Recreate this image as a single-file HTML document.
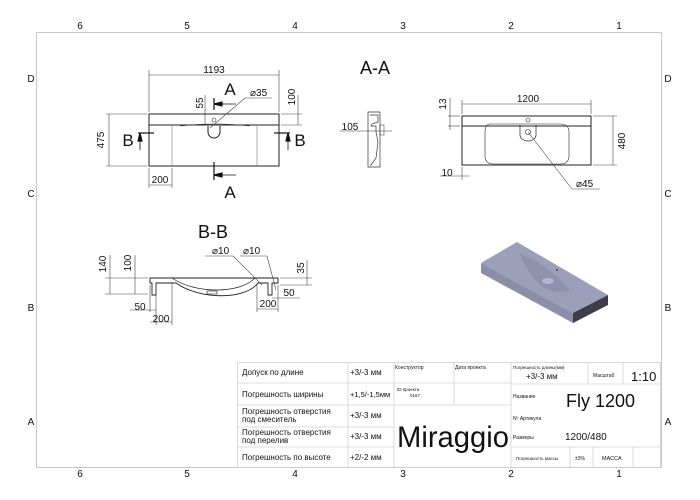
<!DOCTYPE html>
<html><head><meta charset="utf-8"><style>
html,body{margin:0;padding:0;background:#fff;}
svg{display:block;font-family:"Liberation Sans","DejaVu Sans",sans-serif;}
</style></head><body>
<svg width="700" height="500" viewBox="0 0 700 500" xmlns="http://www.w3.org/2000/svg">
<rect width="700" height="500" fill="#fff"/>
<!-- frame -->
<rect x="36.5" y="32.5" width="625" height="435" fill="none" stroke="#c8c8c8" stroke-width="1"/>
<g font-size="10" fill="#111" text-anchor="middle">
<text x="80" y="29">6</text><text x="187" y="29">5</text><text x="295" y="29">4</text><text x="403" y="29">3</text><text x="511" y="29">2</text><text x="619" y="29">1</text>
<text x="80" y="477">6</text><text x="187" y="477">5</text><text x="295" y="477">4</text><text x="403" y="477">3</text><text x="511" y="477">2</text><text x="619" y="477">1</text>
<text x="31" y="82">D</text><text x="31" y="197">C</text><text x="31" y="311">B</text><text x="31" y="425">A</text>
<text x="668" y="82">D</text><text x="668" y="197">C</text><text x="668" y="311">B</text><text x="668" y="425">A</text>
</g>

<!-- top-left plan -->
<g stroke="#222" stroke-width="1" fill="none">
<rect x="149" y="114" width="130" height="52"/>
<line x1="149" y1="125" x2="279" y2="125"/>
<line x1="172" y1="125" x2="172" y2="166" stroke="#777" stroke-width="0.6"/>
<line x1="257" y1="125" x2="257" y2="166" stroke="#777" stroke-width="0.6"/>
<path d="M208 126 L208 132 A6 6 0 0 0 220 132 L220 126"/>
<circle cx="214" cy="120" r="2" stroke-width="0.6"/>
<path d="M180 126 Q214 122 250 126" stroke-width="0.6"/>
</g>
<g stroke="#444" stroke-width="0.6" fill="none">
<line x1="149" y1="70" x2="149" y2="112"/><line x1="279" y1="70" x2="279" y2="112"/>
<line x1="149" y1="75" x2="279" y2="75"/>
<line x1="106" y1="114" x2="147" y2="114"/><line x1="106" y1="166" x2="147" y2="166"/>
<line x1="109" y1="114" x2="109" y2="166"/>
<line x1="149" y1="168" x2="149" y2="188"/><line x1="172" y1="168" x2="172" y2="188"/>
<line x1="149" y1="185" x2="172" y2="185"/>
<line x1="298" y1="95" x2="298" y2="125"/><line x1="281" y1="114" x2="302" y2="114"/><line x1="281" y1="125" x2="302" y2="125"/>
<line x1="205" y1="95" x2="205" y2="125"/>
<line x1="210" y1="128" x2="245" y2="98"/><line x1="245" y1="98" x2="272" y2="98"/>
</g>
<g stroke="#111" stroke-width="1.2" fill="#111">
<line x1="214" y1="98" x2="214" y2="110"/><line x1="214" y1="104" x2="236" y2="104" stroke-width="0.8"/>
<path d="M214 104 L222 102 L222 106Z"/>
<line x1="214" y1="162" x2="214" y2="180"/><line x1="214" y1="175" x2="236" y2="175" stroke-width="0.8"/>
<path d="M214 175 L222 173 L222 177Z"/>
<line x1="138" y1="133" x2="154" y2="133"/><line x1="140" y1="133" x2="140" y2="150" stroke-width="0.8"/>
<path d="M140 133 L138 141 L142 141Z"/>
<line x1="274" y1="133" x2="290" y2="133"/><line x1="288" y1="133" x2="288" y2="150" stroke-width="0.8"/>
<path d="M288 133 L286 141 L290 141Z"/>
</g>
<g fill="#111" font-size="10">
<text x="214" y="73" text-anchor="middle">1193</text>
<text x="230" y="95" font-size="17" text-anchor="middle">A</text>
<text x="230" y="198" font-size="17" text-anchor="middle">A</text>
<text x="128" y="146" font-size="17" text-anchor="middle">B</text>
<text x="300" y="146" font-size="17" text-anchor="middle">B</text>
<text x="250" y="96">⌀35</text>
<text x="160" y="183" text-anchor="middle">200</text>
<text transform="translate(104 140) rotate(-90)" text-anchor="middle">475</text>
<text transform="translate(295 97) rotate(-90)" text-anchor="middle">100</text>
<text transform="translate(203 103) rotate(-90)" text-anchor="middle">55</text>
</g>

<!-- A-A -->
<text x="375" y="74" font-size="18" text-anchor="middle" fill="#111">A-A</text>
<g stroke="#333" stroke-width="0.7" fill="none">
<path d="M368 112 L380 112 L380 167 L368 167 Z"/>
<path d="M370 115 L378 115 L378 122 L372 124 L371 126 L376 126 L376 132 L378 142 L376 158 L371 165 L370 165"/>
<line x1="340" y1="131" x2="392" y2="131" stroke-width="0.5"/>
<rect x="380" y="125" width="4" height="10" stroke-width="0.5"/>
</g>
<text x="350" y="130" font-size="10" text-anchor="middle" fill="#111">105</text>
<g stroke="#222" stroke-width="1" fill="none">
<rect x="462" y="116" width="129" height="49"/>
<line x1="462" y1="126" x2="591" y2="126"/>
<path d="M490 124 Q485 124 485 132 L485 156 Q485 164 494 164 L560 164 Q569 164 569 156 L569 132 Q569 124 560 124 Z" stroke-width="0.6"/>
<path d="M520 125 L520 135 A8 6 0 0 0 536 135 L536 125" stroke-width="0.7"/>
<circle cx="528" cy="120" r="2" stroke-width="0.6"/>
<circle cx="528" cy="132" r="2.5" stroke-width="0.6"/>
</g>
<g stroke="#444" stroke-width="0.6" fill="none">
<line x1="462" y1="100" x2="462" y2="114"/><line x1="591" y1="100" x2="591" y2="114"/>
<line x1="462" y1="104" x2="591" y2="104"/>
<line x1="593" y1="116" x2="617" y2="116"/><line x1="593" y1="165" x2="617" y2="165"/>
<line x1="613" y1="116" x2="613" y2="165"/>
<line x1="448" y1="116" x2="460" y2="116"/><line x1="448" y1="126" x2="460" y2="126"/>
<line x1="450" y1="98" x2="450" y2="130"/>
<line x1="462" y1="167" x2="462" y2="180"/><line x1="440" y1="176" x2="470" y2="176"/>
<line x1="528" y1="132" x2="572" y2="189"/><line x1="572" y1="189" x2="600" y2="189"/>
</g>
<g fill="#111" font-size="10">
<text x="528" y="102" text-anchor="middle">1200</text>
<text transform="translate(625 141) rotate(-90)" text-anchor="middle">480</text>
<text transform="translate(446 104) rotate(-90)" text-anchor="middle">13</text>
<text x="447" y="176" text-anchor="middle">10</text>
<text x="576" y="187">⌀45</text>
</g>

<!-- B-B -->
<text x="213" y="238" font-size="18" text-anchor="middle" fill="#111">B-B</text>
<g stroke="#222" stroke-width="0.9" fill="none">
<path d="M150 278 L278 278 L278 283 L272 283 L272 295 L268 295 L268 283 L258 283 C245 300 200 300 176 283 L156 283 L156 295 L152 295 L152 283 L150 283 Z"/>
<path d="M172 278 C195 294 240 294 255 278" stroke-width="0.7"/>
<rect x="207" y="291" width="10" height="3" stroke-width="0.6"/>
</g>
<g stroke="#444" stroke-width="0.6" fill="none">
<line x1="105" y1="278" x2="148" y2="278"/><line x1="105" y1="294" x2="148" y2="294"/>
<line x1="110" y1="255" x2="110" y2="294"/><line x1="135" y1="255" x2="135" y2="294"/>
<line x1="280" y1="278" x2="312" y2="278"/><line x1="280" y1="285" x2="312" y2="285"/><line x1="307" y1="260" x2="307" y2="285"/>
<line x1="150" y1="285" x2="150" y2="312"/><line x1="156" y1="285" x2="156" y2="325"/><line x1="172" y1="283" x2="172" y2="325"/>
<line x1="130" y1="310" x2="156" y2="310"/><line x1="150" y1="322" x2="172" y2="322"/>
<line x1="257" y1="283" x2="257" y2="312"/><line x1="278" y1="285" x2="278" y2="312"/>
<line x1="257" y1="309" x2="278" y2="309"/><line x1="272" y1="298" x2="300" y2="298"/>
<line x1="205" y1="256" x2="233" y2="256"/><line x1="233" y1="256" x2="262" y2="285"/>
<line x1="240" y1="256" x2="267" y2="256"/><line x1="267" y1="256" x2="276" y2="290"/>
</g>
<g fill="#111" font-size="10">
<text transform="translate(106 264) rotate(-90)" text-anchor="middle">140</text>
<text transform="translate(131 263) rotate(-90)" text-anchor="middle">100</text>
<text transform="translate(304 268) rotate(-90)" text-anchor="middle">35</text>
<text x="140" y="310" text-anchor="middle">50</text>
<text x="161" y="322" text-anchor="middle">200</text>
<text x="268" y="307" text-anchor="middle">200</text>
<text x="289" y="296" text-anchor="middle">50</text>
<text x="212" y="254">⌀10</text>
<text x="243" y="254">⌀10</text>
</g>

<!-- 3D -->
<polygon points="481,263 517,242 608,295 573,313" fill="#9c9fba"/>
<polygon points="481,263 573,313 573,323 481,273" fill="#8b8ea9"/>
<polygon points="573,313 608,295 608,305 573,323" fill="#3c3c4a"/>
<path d="M520 254 Q545 262 570 290 Q555 296 540 285 Q525 270 520 254Z" fill="#8f92ad"/>
<ellipse cx="548" cy="281" rx="6" ry="3" fill="#b3b5cc"/>
<circle cx="557" cy="270" r="1" fill="#444"/>

<!-- title block -->
<g stroke="#d0d0d0" stroke-width="0.8" fill="none">
<rect x="237.5" y="362.5" width="423" height="105"/>
<line x1="237" y1="383" x2="511" y2="383"/><line x1="237" y1="405" x2="394" y2="405"/><line x1="237" y1="427" x2="394" y2="427"/><line x1="237" y1="447" x2="394" y2="447"/>
<line x1="348" y1="362" x2="348" y2="467"/><line x1="394" y1="362" x2="394" y2="467"/>
<line x1="454" y1="362" x2="454" y2="405"/><line x1="394" y1="405" x2="511" y2="405"/>
<line x1="511" y1="362" x2="511" y2="467"/>
<line x1="511" y1="384" x2="660" y2="384"/><line x1="511" y1="447" x2="660" y2="447"/>
<line x1="588" y1="362" x2="588" y2="384"/><line x1="623" y1="362" x2="623" y2="384"/>
<line x1="570" y1="447" x2="570" y2="467"/><line x1="593" y1="447" x2="593" y2="467"/><line x1="633" y1="447" x2="633" y2="467"/>
</g>
<g fill="#111" font-size="8">
<text x="242" y="375">Допуск по длине</text>
<text x="242" y="397">Погрешность ширины</text>
<text x="242" y="414">Погрешность отверстия</text><text x="242" y="422">под смеситель</text>
<text x="242" y="435">Погрешность отверстия</text><text x="242" y="443">под перелив</text>
<text x="242" y="460">Погрешность по высоте</text>
<text x="350" y="375">+3/-3 мм</text>
<text x="350" y="397" font-size="7.5">+1,5/-1,5мм</text>
<text x="350" y="418">+3/-3 мм</text>
<text x="350" y="439">+3/-3 мм</text>
<text x="350" y="460">+2/-2 мм</text>
<text x="395" y="369" font-size="5">Конструктор</text>
<text x="455" y="369" font-size="5">Дата проекта</text>
<text x="397" y="391" font-size="4.5">ID проекта</text><text x="410" y="397" font-size="4.5">0167</text>
<text x="397" y="447" font-size="30" textLength="112" lengthAdjust="spacingAndGlyphs">Miraggio</text>
<text x="513" y="369" font-size="4.5">Погрешность длины(мм)</text>
<text x="526" y="379">+3/-3 мм</text>
<text x="593" y="377" font-size="5">Масштаб</text>
<text x="631" y="381" font-size="13">1:10</text>
<text x="513" y="398" font-size="5">Название</text>
<text x="566" y="407" font-size="18">Fly 1200</text>
<text x="513" y="420" font-size="5">Nº Артикула</text>
<text x="513" y="439" font-size="5">Размеры</text>
<text x="565" y="440" font-size="10">1200/480</text>
<text x="516" y="460" font-size="4.5">Погрешность массы</text>
<text x="575" y="460" font-size="5">±3%</text>
<text x="602" y="460" font-size="5.5">МАССА</text>
</g>
</svg>
</body></html>
